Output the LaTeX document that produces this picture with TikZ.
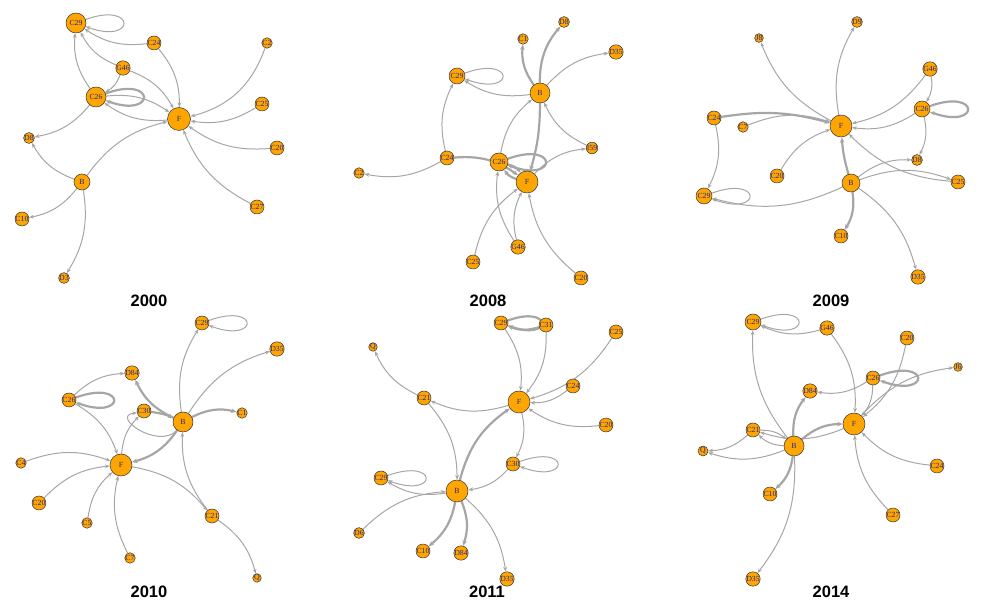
\documentclass[tikz,border=0pt]{standalone}
\usepackage{fontspec}
\setmainfont{Liberation Serif}
\newfontfamily\yrfont{Liberation Sans}
\usetikzlibrary{arrows.meta}
\definecolor{vorange}{HTML}{FFA500}
\definecolor{vborder}{HTML}{333333}
\definecolor{vlabel}{HTML}{24248A}
\definecolor{egray}{HTML}{A6A6A6}
\pgfdeclarelayer{bg}
\pgfsetlayers{bg,main}
\begin{document}
\begin{tikzpicture}[x=1pt,y=1pt,
  vn/.style={circle,fill=vorange,draw=vborder,line width=0.5pt,inner sep=0pt,text=vlabel,font=\fontsize{7.8}{7.8}\selectfont},
  ed/.style={draw=egray,line width=1pt,-{Stealth[length=4.8pt,width=3.8pt]},bend left=20},
  ted/.style={ed,line width=2.2pt,-{Stealth[length=5.5pt,width=4.6pt]}},
  lpe/.style={draw=egray,line width=1pt,-{Stealth[length=4.8pt,width=3.8pt]},out=20,in=-20,min distance=54pt},
  tlpe/.style={lpe,line width=2.2pt},
  yr/.style={font=\yrfont\bfseries\fontsize{16.5}{16.5}\selectfont,inner sep=0pt}]
\useasboundingbox (0,0) rectangle (981,612);

% ---------------- 2000 ----------------
\node[vn,minimum size=20pt] (aC29) at (76,589) {C29};
\node[vn,minimum size=12pt] (aC24) at (154,569) {C24};
\node[vn,minimum size=8pt] (aC2) at (267,569) {C2};
\node[vn,minimum size=13pt] (aG46) at (123,544) {G46};
\node[vn,minimum size=20pt] (aC26) at (96,515) {C26};
\node[vn,minimum size=23pt] (aF) at (179,493) {F};
\node[vn,minimum size=8pt] (aC25) at (262,508) {C25};
\node[vn,minimum size=8pt] (aC20) at (277,464) {C20};
\node[vn,minimum size=10pt] (aD8) at (29,474) {D8};
\node[vn,minimum size=16pt] (aB) at (82,430) {B};
\node[vn,minimum size=8pt] (aC10) at (22,393) {C10};
\node[vn,minimum size=8pt] (aD3) at (64,334) {D3};
\node[vn,minimum size=8pt] (aC27) at (257,405) {C27};
\node[yr] (t2000) at (149,311) {2000};
\begin{pgfonlayer}{bg}
\draw[lpe] (aC29) to (aC29);
\draw[ed] (aC24) to (aC29);
\draw[ed] (aC24) to (aF);
\draw[ed] (aG46) to (aC29);
\draw[ed] (aG46) to (aC26);
\draw[ed] (aG46) to (aF);
\draw[ed] (aC26) to (aC29);
\draw[tlpe] (aC26) to (aC26);
\draw[ed] (aC26) to (aF);
\draw[ed] (aF) to (aC26);
\draw[ed] (aC26) to (aD8);
\draw[ed] (aB) to (aD8);
\draw[ed] (aB) to (aF);
\draw[ed] (aB) to (aC10);
\draw[ed] (aB) to (aD3);
\draw[ed,bend left=28] (aC2) to (aF);
\draw[ed] (aC25) to (aF);
\draw[ed] (aC20) to (aF);
\draw[ed] (aC27) to (aF);
\end{pgfonlayer}

% ---------------- 2008 ----------------
\node[vn,minimum size=8pt] (bC1) at (523,573) {C1};
\node[vn,minimum size=8pt] (bD8) at (564,590) {D8};
\node[vn,minimum size=8pt] (bD35) at (616,560) {D35};
\node[vn,minimum size=16pt] (bC29) at (457,536) {C29};
\node[vn,minimum size=20pt] (bB) at (540,519) {B};
\node[vn,minimum size=10pt] (bI59) at (592,464) {I59};
\node[vn,minimum size=14pt] (bC24) at (447,454) {C24};
\node[vn,minimum size=18pt] (bC26) at (499,450) {C26};
\node[vn,minimum size=22pt] (bF) at (527,430) {F};
\node[vn,minimum size=8pt] (bC2) at (359,439) {C2};
\node[vn,minimum size=10pt] (bG46) at (518,365) {G46};
\node[vn,minimum size=8pt] (bC25) at (473,350) {C25};
\node[vn,minimum size=8pt] (bC20) at (581,334) {C20};
\node[yr] (t2008) at (488,311) {2008};
\begin{pgfonlayer}{bg}
\draw[ted] (bB) to (bC1);
\draw[ted] (bB) to (bD8);
\draw[ed] (bB) to (bD35);
\draw[ed] (bB) to (bC29);
\draw[lpe] (bC29) to (bC29);
\draw[ed] (bC24) to (bC29);
\draw[ed] (bC24) to (bC2);
\draw[ted] (bC24) to (bF);
\draw[ed] (bC26) to (bB);
\draw[ted,bend left=8] (bB) to (bF);
\draw[tlpe] (bC26) to (bC26);
\draw[ted] (bC26) to (bF);
\draw[ted] (bF) to (bC26);
\draw[ed] (bF) to (bI59);
\draw[ed] (bI59) to (bB);
\draw[ed] (bG46) to (bC26);
\draw[ed] (bG46) to (bF);
\draw[ed] (bC25) to (bF);
\draw[ed] (bC20) to (bF);
\end{pgfonlayer}

% ---------------- 2009 ----------------
\node[vn,minimum size=8pt] (cJ8) at (759,574) {J8};
\node[vn,minimum size=8pt] (cD9) at (857,590) {D9};
\node[vn,minimum size=10pt] (cG46) at (930,543) {G46};
\node[vn,minimum size=16pt] (cC26) at (922,503) {C26};
\node[vn,minimum size=10pt] (cC24) at (714,494) {C24};
\node[vn,minimum size=8pt] (cC7) at (743,485) {C7};
\node[vn,minimum size=22pt] (cF) at (841,486) {F};
\node[vn,minimum size=10pt] (cD8) at (917,452) {D8};
\node[vn,minimum size=8pt] (cC20) at (777,436) {C20};
\node[vn,minimum size=18pt] (cB) at (851,429) {B};
\node[vn,minimum size=10pt] (cC25) at (958,430) {C25};
\node[vn,minimum size=16pt] (cC29) at (704,416) {C29};
\node[vn,minimum size=8pt] (cC10) at (841,376) {C10};
\node[vn,minimum size=8pt] (cD35) at (918,335) {D35};
\node[yr] (t2009) at (831,311) {2009};
\begin{pgfonlayer}{bg}
\draw[ed] (cF) to (cJ8);
\draw[ed] (cF) to (cD9);
\draw[ed] (cG46) to (cF);
\draw[ed] (cG46) to (cC26);
\draw[tlpe] (cC26) to (cC26);
\draw[ed] (cC26) to (cF);
\draw[ed] (cC26) to (cD8);
\draw[ted,bend left=12] (cC24) to (cF);
\draw[ed] (cC24) to (cC29);
\draw[ed] (cC7) to (cF);
\draw[ed] (cC20) to (cF);
\draw[ted,bend left=6] (cB) to (cF);
\draw[ed] (cB) to (cD8);
\draw[ed] (cB) to (cC25);
\draw[ed] (cC25) to (cF);
\draw[ed] (cB) to (cC29);
\draw[lpe] (cC29) to (cC29);
\draw[ted] (cB) to (cC10);
\draw[ed] (cB) to (cD35);
\end{pgfonlayer}

% ---------------- 2010 ----------------
\node[vn,minimum size=14pt] (dC29) at (202,289) {C29};
\node[vn,minimum size=8pt] (dD35) at (277,263) {D35};
\node[vn,minimum size=10pt] (dD84) at (132,239) {D84};
\node[vn,minimum size=14pt] (dC26) at (69,212) {C26};
\node[vn,minimum size=14pt] (dC30) at (144,201) {C30};
\node[vn,minimum size=20pt] (dB) at (183,190) {B};
\node[vn,minimum size=8pt] (dC1) at (242,199) {C1};
\node[vn,minimum size=22pt] (dF) at (121,147) {F};
\node[vn,minimum size=8pt] (dC4) at (21,149) {C4};
\node[vn,minimum size=8pt] (dC20) at (39,109) {C20};
\node[vn,minimum size=8pt] (dC5) at (87,89) {C5};
\node[vn,minimum size=14pt] (dC21) at (212,96) {C21};
\node[vn,minimum size=8pt] (dC7) at (130,54) {C7};
\node[vn,minimum size=8pt] (dQ) at (257,34) {Q};
\node[yr] (t2010) at (149,20) {2010};
\begin{pgfonlayer}{bg}
\draw[ed] (dB) to (dC29);
\draw[lpe] (dC29) to (dC29);
\draw[ed] (dB) to (dD35);
\draw[ted] (dB) to (dD84);
\draw[ed] (dC26) to (dD84);
\draw[tlpe] (dC26) to (dC26);
\draw[ed] (dC26) to (dF);
\draw[ted,bend left=8] (dC30) to (dB);
\draw[ed,bend left=0,out=70,in=30,looseness=1.6] (dB) to (dC30);
\draw[ed] (dF) to (dC30);
\draw[ted] (dB) to (dF);
\draw[ted] (dB) to (dC1);
\draw[ed] (dC4) to (dF);
\draw[ed] (dC20) to (dF);
\draw[ed] (dC5) to (dF);
\draw[ed] (dC7) to (dF);
\draw[ed] (dF) to (dC21);
\draw[ed] (dC21) to (dB);
\draw[ed] (dC21) to (dQ);
\end{pgfonlayer}

% ---------------- 2011 ----------------
\node[vn,minimum size=14pt] (eC29) at (501,289) {C29};
\node[vn,minimum size=10pt] (eC31) at (546,287) {C31};
\node[vn,minimum size=8pt] (eC25) at (616,280) {C25};
\node[vn,minimum size=8pt] (eQ) at (373,265) {Q};
\node[vn,minimum size=8pt] (eC24) at (573,226) {C24};
\node[vn,minimum size=14pt] (eC21) at (424,214) {C21};
\node[vn,minimum size=22pt] (eF) at (519,210) {F};
\node[vn,minimum size=8pt] (eC20) at (606,187) {C20};
\node[vn,minimum size=14pt] (eC30) at (513,148) {C30};
\node[vn,minimum size=14pt] (eC29b) at (381,134) {C29};
\node[vn,minimum size=22pt] (eB) at (457,121) {B};
\node[vn,minimum size=8pt] (eD6) at (359,79) {D6};
\node[vn,minimum size=8pt] (eC10) at (423,61) {C10};
\node[vn,minimum size=8pt] (eD84) at (461,59) {D84};
\node[vn,minimum size=8pt] (eD35) at (507,33) {D35};
\node[yr] (t2011) at (487,20) {2011};
\begin{pgfonlayer}{bg}
\draw[tlpe,min distance=48pt] (eC29) to (eC29);
\draw[ted] (eC31) to (eC29);
\draw[ed] (eC29) to (eF);
\draw[ed] (eC31) to (eF);
\draw[ed] (eC25) to (eF);
\draw[ed] (eC24) to (eF);
\draw[ed] (eC20) to (eF);
\draw[ed] (eF) to (eC21);
\draw[ed] (eC21) to (eQ);
\draw[ed] (eC21) to (eB);
\draw[ted] (eB) to (eF);
\draw[ed] (eF) to (eC30);
\draw[lpe] (eC30) to (eC30);
\draw[ed] (eC30) to (eB);
\draw[ed] (eB) to (eC29b);
\draw[lpe] (eC29b) to (eC29b);
\draw[ed] (eD6) to (eB);
\draw[ted] (eB) to (eC10);
\draw[ted] (eB) to (eD84);
\draw[ed] (eB) to (eD35);
\end{pgfonlayer}

% ---------------- 2014 ----------------
\node[vn,minimum size=16pt] (fC29) at (753,290) {C29};
\node[vn,minimum size=10pt] (fG46) at (827,284) {G46};
\node[vn,minimum size=8pt] (fC20) at (907,274) {C20};
\node[vn,minimum size=8pt] (fJ6) at (958,245) {J6};
\node[vn,minimum size=14pt] (fC26) at (873,234) {C26};
\node[vn,minimum size=10pt] (fD84) at (810,221) {D84};
\node[vn,minimum size=22pt] (fF) at (854,188) {F};
\node[vn,minimum size=14pt] (fC21) at (753,182) {C21};
\node[vn,minimum size=10pt] (fQ) at (703,161) {Q};
\node[vn,minimum size=20pt] (fB) at (794,166) {B};
\node[vn,minimum size=8pt] (fC24) at (937,146) {C24};
\node[vn,minimum size=8pt] (fC10) at (770,118) {C10};
\node[vn,minimum size=8pt] (fC27) at (893,97) {C27};
\node[vn,minimum size=8pt] (fD35) at (753,33) {D35};
\node[yr] (t2014) at (831,20) {2014};
\begin{pgfonlayer}{bg}
\draw[ed] (fG46) to (fC29);
\draw[lpe] (fC29) to (fC29);
\draw[ed] (fB) to (fC29);
\draw[ed] (fG46) to (fF);
\draw[ed] (fC20) to (fF);
\draw[ed] (fF) to (fJ6);
\draw[tlpe] (fC26) to (fC26);
\draw[ed] (fC26) to (fD84);
\draw[ed] (fC26) to (fF);
\draw[ted] (fB) to (fD84);
\draw[ed] (fB) to (fC21);
\draw[ed] (fC21) to (fB);
\draw[ted] (fB) to (fF);
\draw[ed] (fF) to (fC21);
\draw[ed] (fC21) to (fQ);
\draw[ed] (fB) to (fQ);
\draw[ted] (fB) to (fC10);
\draw[ed] (fB) to (fD35);
\draw[ed] (fC24) to (fF);
\draw[ed] (fC27) to (fF);
\end{pgfonlayer}
\end{tikzpicture}
\end{document}
